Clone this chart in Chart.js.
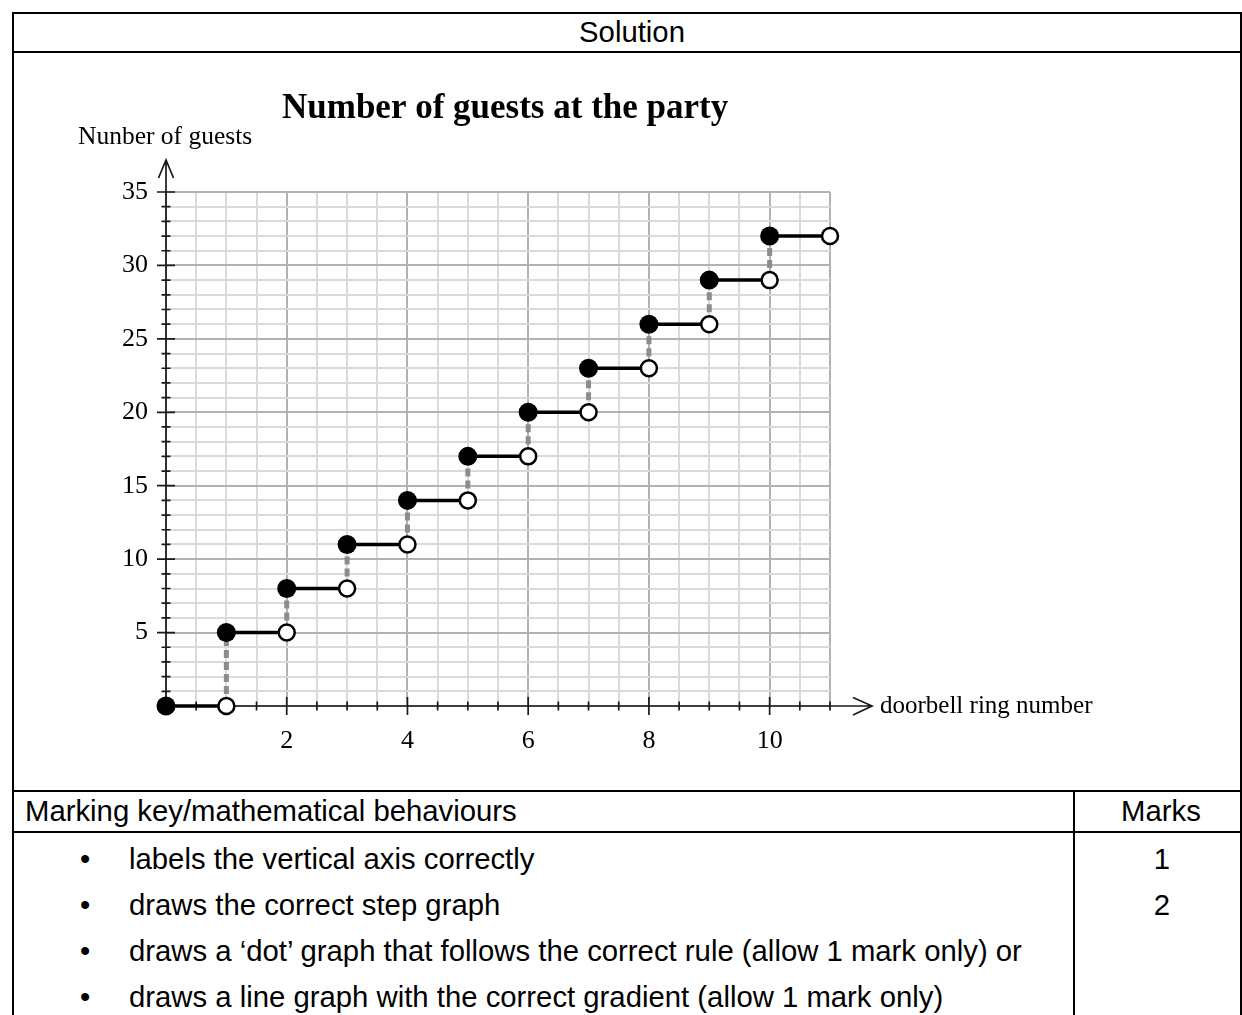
<!DOCTYPE html>
<html>
<head>
<meta charset="utf-8">
<script src="https://cdn.jsdelivr.net/npm/chart.js@4.4.1/dist/chart.umd.min.js"></script>
<style>
html,body{margin:0;padding:0;background:#fff;}
#page{position:relative;width:1242px;height:1015px;overflow:hidden;font-family:"Liberation Sans",Arial,sans-serif;color:#000;}
.hl{position:absolute;height:2px;background:#000;}
.vl{position:absolute;width:2px;background:#000;}
.t{position:absolute;font-size:29.3px;line-height:29px;white-space:nowrap;}
canvas{position:absolute;left:0;top:0;}
</style>
</head>
<body>
<div id="page">
  <div class="hl" style="left:12px;top:12px;width:1230px;"></div>
  <div class="vl" style="left:12px;top:12px;height:1003px;"></div>
  <div class="vl" style="left:1240px;top:12px;height:1003px;"></div>
  <div class="hl" style="left:12px;top:51px;width:1230px;"></div>
  <div class="hl" style="left:12px;top:790px;width:1230px;"></div>
  <div class="hl" style="left:12px;top:831px;width:1230px;"></div>
  <div class="vl" style="left:1073px;top:790px;height:225px;"></div>

  <div class="t" style="left:14px;width:1236px;text-align:center;top:16.5px;">Solution</div>
  <div class="t" style="left:25px;top:795.5px;">Marking key/mathematical behaviours</div>
  <div class="t" style="left:1075px;width:172px;text-align:center;top:795.5px;">Marks</div>

  <div class="t" style="left:80px;top:843.5px;">•</div>
  <div class="t" style="left:129px;top:843.5px;">labels the vertical axis correctly</div>
  <div class="t" style="left:1075px;width:174px;text-align:center;top:843.5px;">1</div>

  <div class="t" style="left:80px;top:889.5px;">•</div>
  <div class="t" style="left:129px;top:889.5px;">draws the correct step graph</div>
  <div class="t" style="left:1075px;width:174px;text-align:center;top:889.5px;">2</div>

  <div class="t" style="left:80px;top:935.5px;">•</div>
  <div class="t" style="left:129px;top:935.5px;">draws a ‘dot’ graph that follows the correct rule (allow 1 mark only) or</div>

  <div class="t" style="left:80px;top:981.5px;">•</div>
  <div class="t" style="left:129px;top:981.5px;">draws a line graph with the correct gradient (allow 1 mark only)</div>

  <canvas id="c" width="1242" height="1015"></canvas>
</div>
<script>
// ---- data ----
const ringNumbers = [0, 1, 2, 3, 4, 5, 6, 7, 8, 9, 10];      // closed dot positions
const stepEnds    = [1, 2, 3, 4, 5, 6, 7, 8, 9, 10, 11];     // open circle positions
const guests      = [0, 5, 8, 11, 14, 17, 20, 23, 26, 29, 32];
const xTickLabels = [2, 4, 6, 8, 10];
const yTickLabels = [5, 10, 15, 20, 25, 30, 35];

const chartTitle = 'Number of guests at the party';
const yAxisTitle = 'Nunber of guests';
const xAxisTitle = 'doorbell ring number';

// ---- datasets built from the arrays ----
const closedPts = ringNumbers.map((r, i) => ({x: r, y: guests[i]}));
const openPts = stepEnds.map((r, i) => ({x: r, y: guests[i]}));
const stepSegs = [];
ringNumbers.forEach((r, i) => {
  stepSegs.push({x: r, y: guests[i]}, {x: stepEnds[i], y: guests[i]}, {x: stepEnds[i], y: null});
});
const risers = [];
for (let i = 0; i < ringNumbers.length - 1; i++) {
  risers.push({x: stepEnds[i], y: guests[i]}, {x: ringNumbers[i + 1], y: guests[i + 1]}, {x: stepEnds[i], y: null});
}

const SERIF = '"Liberation Serif", "Times New Roman", serif';
const MINOR = '#dadada';
const MAJOR = '#b2b2b2';

const decor = {
  id: 'decor',
  beforeDatasetsDraw(chart) {
    const {ctx, scales: {x, y}} = chart;
    const x0 = x.getPixelForValue(0);
    const y0 = y.getPixelForValue(0);
    ctx.save();
    ctx.strokeStyle = '#1a1a1a';
    ctx.lineWidth = 1.7;
    ctx.lineCap = 'butt';
    // axes
    ctx.beginPath();
    ctx.moveTo(x0, y0); ctx.lineTo(872, y0);
    ctx.moveTo(x0, y0); ctx.lineTo(x0, 160);
    // arrow heads
    ctx.moveTo(853, y0 - 8.5); ctx.lineTo(872, y0); ctx.lineTo(853, y0 + 9);
    ctx.moveTo(x0 - 7.5, 178); ctx.lineTo(x0, 160); ctx.lineTo(x0 + 7.5, 178);
    // x ticks
    x.ticks.forEach(t => {
      if (t.value === 0) return;
      const px = x.getPixelForValue(t.value);
      const len = (t.value % 2 === 0) ? 9 : 4.5;
      ctx.moveTo(px, y0 - len); ctx.lineTo(px, y0 + len);
    });
    // y ticks
    y.ticks.forEach(t => {
      if (t.value === 0) return;
      const py = y.getPixelForValue(t.value);
      const len = (t.value % 5 === 0) ? 9 : 4.5;
      ctx.moveTo(x0 - len, py); ctx.lineTo(x0 + len, py);
    });
    ctx.stroke();
    ctx.restore();
  },
  afterDraw(chart) {
    const {ctx} = chart;
    ctx.save();
    ctx.fillStyle = '#000';
    ctx.textBaseline = 'alphabetic';
    ctx.textAlign = 'left';
    ctx.font = 'bold 35px ' + SERIF;
    ctx.fillText(chartTitle, 282, 118);
    ctx.font = '25.5px ' + SERIF;
    ctx.fillText(yAxisTitle, 78, 144);
    ctx.font = '25px ' + SERIF;
    ctx.fillText(xAxisTitle, 880, 713);
    ctx.restore();
  }
};

new Chart(document.getElementById('c'), {
  type: 'scatter',
  data: {
    datasets: [
      {
        label: 'closed', data: closedPts, order: 0, clip: false,
        pointRadius: 9.5, pointHoverRadius: 9.5, backgroundColor: '#000', borderColor: '#000', borderWidth: 0
      },
      {
        label: 'open', data: openPts, order: 0, clip: false,
        pointRadius: 8, pointHoverRadius: 8, backgroundColor: '#fff', borderColor: '#000', borderWidth: 2.5
      },
      {
        label: 'steps', data: stepSegs, order: 1, clip: false, showLine: true, spanGaps: false,
        pointRadius: 0, pointHoverRadius: 0, borderColor: '#000', borderWidth: 3.5
      },
      {
        label: 'risers', data: risers, order: 2, clip: false, showLine: true, spanGaps: false,
        pointRadius: 0, pointHoverRadius: 0, borderColor: '#8c8c8c', borderWidth: 5, borderDash: [8, 4]
      }
    ]
  },
  options: {
    responsive: false,
    animation: false,
    devicePixelRatio: 1,
    events: [],
    layout: {padding: {left: 0, top: 192, right: 412, bottom: 249}},
    plugins: {legend: {display: false}, tooltip: {enabled: false}, title: {display: false}},
    scales: {
      x: {
        type: 'linear', min: 0, max: 11,
        afterFit: s => { s.height = 60; },
        border: {display: false},
        grid: {
          drawTicks: false, lineWidth: 2,
          color: c => (c.tick && (c.tick.value % 2 === 0 || c.tick.value === 11)) ? MAJOR : MINOR
        },
        ticks: {
          stepSize: 0.5, autoSkip: false, maxRotation: 0, padding: 19.5, color: '#000',
          font: {family: SERIF, size: 26},
          callback: v => xTickLabels.includes(v) ? String(v) : ''
        }
      },
      y: {
        type: 'linear', min: 0, max: 35,
        afterFit: s => { s.width = 166; },
        border: {display: false},
        grid: {
          drawTicks: false, lineWidth: 2,
          color: c => (c.tick && c.tick.value % 5 === 0) ? MAJOR : MINOR
        },
        ticks: {
          stepSize: 1, autoSkip: false, padding: 18, color: '#000',
          font: {family: SERIF, size: 26},
          callback: v => yTickLabels.includes(v) ? String(v) : ''
        }
      }
    }
  },
  plugins: [decor]
});
</script>
</body>
</html>
